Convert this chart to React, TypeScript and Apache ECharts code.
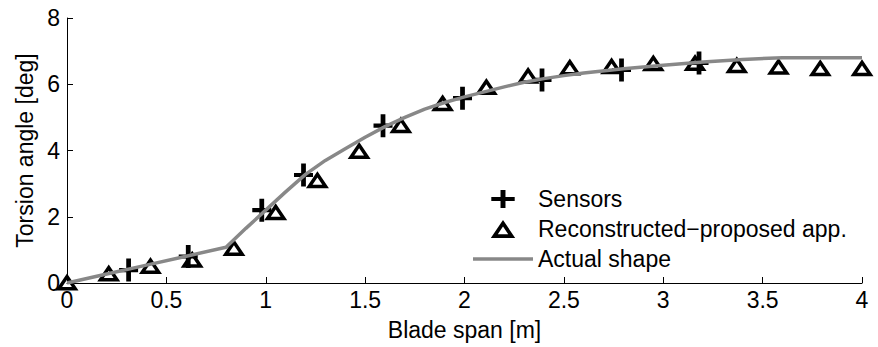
import React, { useEffect, useRef } from "react";
import * as echarts from "echarts";

const sensorX = [0.31, 0.61, 0.98, 1.19, 1.59, 1.99, 2.39, 2.79, 3.18];
const sensorY = [0.39, 0.8, 2.2, 3.26, 4.75, 5.58, 6.13, 6.43, 6.64];

const reconX = [0, 0.21, 0.42, 0.63, 0.84, 1.05, 1.26, 1.47, 1.68, 1.89, 2.11, 2.32, 2.53, 2.74, 2.95, 3.16, 3.37, 3.58, 3.79, 4.0];
const reconY = [0.03, 0.3, 0.53, 0.72, 1.07, 2.15, 3.12, 4.0, 4.78, 5.44, 5.93, 6.27, 6.52, 6.56, 6.65, 6.66, 6.59, 6.54, 6.5, 6.5];

const actualX = [0, 0.2, 0.4, 0.6, 0.8, 0.9, 1.0, 1.1, 1.2, 1.3, 1.4, 1.5, 1.6, 1.7, 1.8, 1.9, 2.0, 2.1, 2.2, 2.3, 2.4, 2.5, 2.6, 2.8, 3.0, 3.2, 3.4, 3.6, 4.0];
const actualY = [0, 0.27, 0.54, 0.81, 1.08, 1.65, 2.2, 2.75, 3.28, 3.7, 4.05, 4.4, 4.72, 5.0, 5.25, 5.45, 5.62, 5.77, 5.92, 6.06, 6.17, 6.26, 6.34, 6.47, 6.57, 6.67, 6.75, 6.8, 6.8];

const xTicks = [0, 0.5, 1, 1.5, 2, 2.5, 3, 3.5, 4];
const yTicks = [0, 2, 4, 6, 8];

const seriesNames = ["Sensors", "Reconstructed\u2212proposed app.", "Actual shape"];

const FONT = "Liberation Sans, Arial, Helvetica, sans-serif";
const PLUS = "path://M37.5,0H62.5V100H37.5Z M0,41H100V59H0Z";
const PLUS_LEGEND = "path://M10.25,0H15.75V20H10.25Z M0,7.85H26V12.15H0Z";
const TRI = "path://M11.5,0L23,17H0Z M11.5,6.25L6.6,13.5H16.4Z";
const LINE_ICON = "path://M0,0H60V3.5H0Z";

export default function App() {
  const ref = useRef<HTMLDivElement>(null);
  useEffect(() => {
    if (!ref.current) return;
    const chart = echarts.init(ref.current, null, { renderer: "svg" });
    const axisText = { color: "#000", fontFamily: FONT, fontSize: 23 };
    chart.setOption({
      animation: false,
      backgroundColor: "#fff",
      grid: { left: 67, right: 16, top: 18, bottom: 64, outerBoundsMode: "none" },
      xAxis: {
        type: "value",
        min: xTicks[0],
        max: xTicks[xTicks.length - 1],
        interval: 0.5,
        name: "Blade span [m]",
        nameLocation: "middle",
        nameGap: 35,
        nameTextStyle: axisText,
        axisLine: { show: true, onZero: false, lineStyle: { color: "#000", width: 1 } },
        axisTick: { show: true, inside: true, length: 6, lineStyle: { color: "#000" } },
        axisLabel: { ...axisText, margin: 5, formatter: (v: number) => String(v) },
        splitLine: { show: false },
      },
      yAxis: {
        type: "value",
        min: yTicks[0],
        max: yTicks[yTicks.length - 1],
        interval: 2,
        name: "Torsion angle [deg]",
        nameLocation: "middle",
        nameGap: 29,
        nameTextStyle: axisText,
        axisLine: { show: true, onZero: false, lineStyle: { color: "#000", width: 1 } },
        axisTick: { show: true, inside: true, length: 6, lineStyle: { color: "#000" } },
        axisLabel: { ...axisText, margin: 7 },
        splitLine: { show: false },
      },
      legend: {
        orient: "vertical",
        left: 468,
        top: 182,
        itemWidth: 60,
        itemHeight: 18,
        itemGap: 6,
        textStyle: { color: "#000", fontFamily: FONT, fontSize: 23, lineHeight: 24 },
        data: [
          { name: seriesNames[0], icon: PLUS_LEGEND, itemStyle: { color: "#000", borderWidth: 0, opacity: 1 } },
          { name: seriesNames[1], icon: TRI, itemStyle: { color: "#000", borderWidth: 0, opacity: 1 } },
          { name: seriesNames[2], icon: LINE_ICON, itemStyle: { color: "#888", borderWidth: 0, opacity: 1 } },
        ],
      },
      series: [
        {
          name: seriesNames[0],
          type: "scatter",
          symbol: PLUS,
          symbolSize: [19, 23],
          itemStyle: { color: "#000", opacity: 1 },
          data: sensorX.map((x, i) => [x, sensorY[i]]),
        },
        {
          name: seriesNames[1],
          type: "scatter",
          symbol: TRI,
          symbolSize: [23, 17],
          itemStyle: { color: "#000", opacity: 1 },
          data: reconX.map((x, i) => [x, reconY[i]]),
        },
        {
          name: seriesNames[2],
          type: "line",
          showSymbol: false,
          symbol: "none",
          lineStyle: { color: "#888", width: 3.5 },
          itemStyle: { color: "#888" },
          data: actualX.map((x, i) => [x, actualY[i]]),
        },
      ],
    });
    return () => chart.dispose();
  }, []);
  return (
    <div
      ref={ref}
      style={{ position: "fixed", left: 0, top: 0, width: 878, height: 347, background: "#fff" }}
    />
  );
}
